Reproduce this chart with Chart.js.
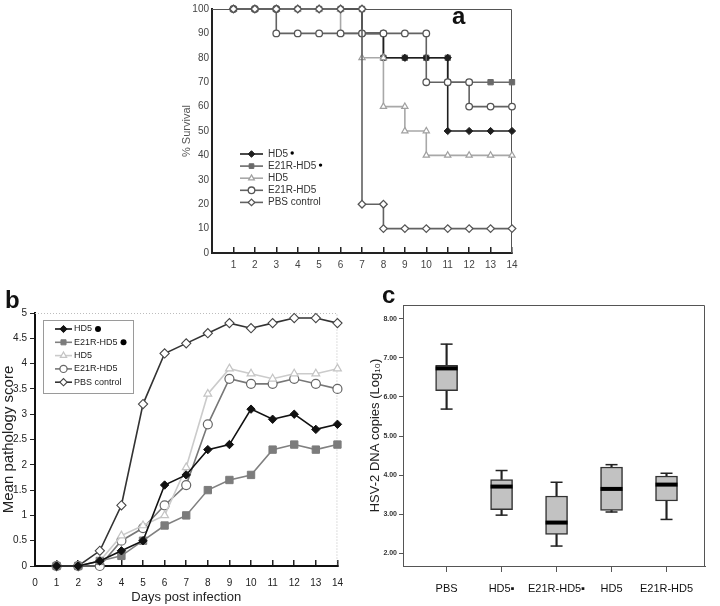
<!DOCTYPE html>
<html><head><meta charset="utf-8">
<script src="https://cdn.jsdelivr.net/npm/chart.js@4.4.1/dist/chart.umd.min.js"></script>
<style>
html,body{margin:0;padding:0;background:#fff;}
body{width:720px;height:606px;position:relative;overflow:hidden;font-family:"Liberation Sans",Arial,sans-serif;}
.box{position:absolute;}
.lab{position:absolute;font-weight:bold;color:#111;font-family:"Liberation Sans",Arial,sans-serif;line-height:normal;}
</style></head><body>
<div class="box" style="left:150px;top:0;width:380px;height:285px"><canvas id="ca"></canvas></div>
<div class="box" style="left:0;top:290px;width:360px;height:316px"><canvas id="cb"></canvas></div>
<div class="box" style="left:365px;top:290px;width:355px;height:316px"><canvas id="cc"></canvas></div>
<div class="lab" style="left:452px;top:2px;font-size:24px">a</div>
<div class="lab" style="left:5px;top:286px;font-size:24px">b</div>
<div class="lab" style="left:382px;top:281px;font-size:24px">c</div>
<script>
// ---------- data ----------
const days = [1,2,3,4,5,6,7,8,9,10,11,12,13,14];
// panel a : % survival at each day
const survHD5dot  = [100,100,100,100,100,100,90,80,80,80,50,50,50,50];
const survE21Rdot = [100,100,100,100,100,100,90,80,80,80,70,70,70,70];
const survHD5     = [100,100,100,100,100,90,80,60,50,40,40,40,40,40];
const survE21R    = [100,100,90,90,90,90,90,90,90,70,70,60,60,60];
const survPBS     = [100,100,100,100,100,100,20,10,10,10,10,10,10,10];
// panel b : mean pathology score
const pathHD5dot  = [0,0,0.1,0.3,0.5,1.6,1.8,2.3,2.4,3.1,2.9,3.0,2.7,2.8];
const pathE21Rdot = [0,0,0.1,0.2,0.5,0.8,1.0,1.5,1.7,1.8,2.3,2.4,2.3,2.4];
const pathHD5     = [0,0,0.1,0.6,0.8,1.0,1.95,3.4,3.9,3.8,3.7,3.8,3.8,3.9];
const pathE21R    = [0,0,0,0.5,0.75,1.2,1.6,2.8,3.7,3.6,3.6,3.7,3.6,3.5];
const pathPBS     = [0,0,0.3,1.2,3.2,4.2,4.4,4.6,4.8,4.7,4.8,4.9,4.9,4.8];
// panel c : HSV-2 DNA copies (log10) box plot
const boxCats = ['PBS','HD5\u25AA','E21R-HD5\u25AA','HD5','E21R-HD5'];
const boxPos  = [1,2,3,4,5];
const boxMin  = [5.69,2.98,2.19,3.06,2.87];
const boxQ1   = [6.16,3.12,2.49,3.10,3.34];
const boxMed  = [6.73,3.71,2.79,3.65,3.76];
const boxQ3   = [6.81,3.89,3.47,4.21,3.98];
const boxMax  = [7.35,4.12,3.82,4.27,4.05];
// tick labels
const logTicks = [2,3,4,5,6,7,8];
const catLabelsHidden0 = ['',1,2,3,4,5,6,7,8,9,10,11,12,13,14];

// ---------- helpers ----------
const FAM = '"Liberation Sans", Arial, sans-serif';
Chart.defaults.font.family = FAM;
Chart.defaults.animation = false;

function stepPts(vals){
  const pts=[];
  vals.forEach((v,i)=>{
    if(i>0 && v!==vals[i-1]) pts.push({x:days[i],y:vals[i-1]});
    pts.push({x:days[i],y:v});
  });
  return pts;
}
function linePts(vals){ return vals.map((v,i)=>({x:days[i],y:v})); }

const framePlugin = {
  id:'frame',
  beforeDatasetsDraw(chart,args,o){
    if(!o || !o.color) return;
    const {left,right,top,bottom}=chart.chartArea; const ctx=chart.ctx;
    ctx.save(); ctx.strokeStyle=o.color; ctx.lineWidth=o.width||1; ctx.setLineDash(o.dash||[]);
    ctx.beginPath(); ctx.moveTo(left,top+0.5); ctx.lineTo(right-0.5,top+0.5); ctx.lineTo(right-0.5,bottom); ctx.stroke();
    ctx.restore();
  }
};
const lineLegend = {
  id:'lineLegend',
  afterDatasetsDraw(chart,args,o){
    if(!o || !o.items) return;
    const ctx=chart.ctx; ctx.save();
    if(o.box){ ctx.fillStyle='#fff'; ctx.fillRect(o.box.x,o.box.y,o.box.w,o.box.h);
      ctx.strokeStyle=o.box.color; ctx.lineWidth=1; ctx.strokeRect(o.box.x+0.5,o.box.y+0.5,o.box.w,o.box.h); }
    o.items.forEach((it,k)=>{
      const ds=chart.data.datasets[it.ds]; const y=o.y+k*o.dy;
      ctx.setLineDash([]);
      ctx.strokeStyle=ds.borderColor; ctx.lineWidth=ds.borderWidth;
      ctx.beginPath(); ctx.moveTo(o.x,y); ctx.lineTo(o.x+o.len,y); ctx.stroke();
      ctx.fillStyle=ds.pointBackgroundColor; ctx.strokeStyle=ds.pointBorderColor; ctx.lineWidth=ds.pointBorderWidth;
      Chart.helpers.drawPoint(ctx,{pointStyle:ds.pointStyle,radius:o.r||ds.pointRadius,borderWidth:ds.pointBorderWidth,rotation:0},o.x+o.len/2,y);
      ctx.fillStyle=o.color; ctx.font=o.font; ctx.textBaseline='middle'; ctx.textAlign='left';
      const tx=o.x+o.len+o.gap; ctx.fillText(it.text,tx,y);
      if(it.bullet){ const w=ctx.measureText(it.text).width; ctx.fillStyle='#000';
        ctx.beginPath(); ctx.arc(tx+w+o.bgap+it.bullet,y-(o.bdy||0),it.bullet,0,Math.PI*2); ctx.fill(); }
    });
    ctx.restore();
  }
};

// ---------- panel a ----------
new Chart(document.getElementById('ca'),{
  type:'line',
  data:{datasets:[
    {label:'HD5 dot',data:stepPts(survHD5dot),borderColor:'#1e1e1e',borderWidth:1.6,pointStyle:'rectRot',pointRadius:3.6,pointBackgroundColor:'#1e1e1e',pointBorderColor:'#1e1e1e',pointBorderWidth:1,order:3,clip:false},
    {label:'E21R-HD5 dot',data:stepPts(survE21Rdot),borderColor:'#6a6a6a',borderWidth:1.6,pointStyle:'rect',pointRadius:3.8,pointBackgroundColor:'#6a6a6a',pointBorderColor:'#6a6a6a',pointBorderWidth:1,order:4,clip:false},
    {label:'HD5',data:stepPts(survHD5),borderColor:'#a8a8a8',borderWidth:1.6,pointStyle:'triangle',pointRadius:3.6,pointBackgroundColor:'#fff',pointBorderColor:'#a0a0a0',pointBorderWidth:1.2,order:2,clip:false},
    {label:'E21R-HD5',data:stepPts(survE21R),borderColor:'#626262',borderWidth:1.6,pointStyle:'circle',pointRadius:3.3,pointBackgroundColor:'#fff',pointBorderColor:'#555',pointBorderWidth:1.3,order:1,clip:false},
    {label:'PBS control',data:stepPts(survPBS),borderColor:'#626262',borderWidth:1.6,pointStyle:'rectRot',pointRadius:3.8,pointBackgroundColor:'#fff',pointBorderColor:'#555',pointBorderWidth:1.3,order:0,clip:false}
  ]},
  options:{
    responsive:true,maintainAspectRatio:false,animation:false,
    layout:{padding:{left:30,right:18,top:5,bottom:0}},
    plugins:{legend:{display:false},tooltip:{enabled:false},
      frame:{color:'#555',width:1},
      lineLegend:{x:90,y:154,dy:12.1,len:23,gap:5,r:3.3,bgap:2.5,bdy:1,font:'10px '+FAM,color:'#333',
        items:[{ds:0,text:'HD5',bullet:1.7},{ds:1,text:'E21R-HD5',bullet:1.7},{ds:2,text:'HD5'},{ds:3,text:'E21R-HD5'},{ds:4,text:'PBS control'}]}},
    scales:{
      x:{type:'linear',min:0,max:14,
        afterBuildTicks:s=>{s.ticks=catLabelsHidden0.map((l,i)=>({value:i}));},
        ticks:{callback:v=>catLabelsHidden0[v],padding:12,font:{size:10},color:'#444',autoSkip:false,maxRotation:0},
        grid:{drawOnChartArea:false,drawTicks:true,tickLength:-6,color:'#222',lineWidth:1.5},
        border:{color:'#222',width:2},afterFit:s=>{s.height=32;}},
      y:{min:0,max:100,ticks:{stepSize:10,padding:3,font:{size:10},color:'#444'},
        grid:{display:false,drawTicks:false},border:{color:'#222',width:2},
        title:{display:true,text:'% Survival',font:{size:11},color:'#555',padding:0},
        afterFit:s=>{s.width=32;}}
    }
  },
  plugins:[framePlugin,lineLegend]
});

// ---------- panel b ----------
new Chart(document.getElementById('cb'),{
  type:'line',
  data:{datasets:[
    {label:'HD5 dot',data:linePts(pathHD5dot),borderColor:'#111',borderWidth:1.6,pointStyle:'rectRot',pointRadius:4.2,pointBackgroundColor:'#111',pointBorderColor:'#111',pointBorderWidth:1,clip:false},
    {label:'E21R-HD5 dot',data:linePts(pathE21Rdot),borderColor:'#808080',borderWidth:1.6,pointStyle:'rect',pointRadius:5.2,pointBackgroundColor:'#7c7c7c',pointBorderColor:'#7c7c7c',pointBorderWidth:1,clip:false},
    {label:'HD5',data:linePts(pathHD5),borderColor:'#cbcbcb',borderWidth:1.6,pointStyle:'triangle',pointRadius:4.5,pointBackgroundColor:'#fff',pointBorderColor:'#c4c4c4',pointBorderWidth:1.2,clip:false},
    {label:'E21R-HD5',data:linePts(pathE21R),borderColor:'#777',borderWidth:1.6,pointStyle:'circle',pointRadius:4.5,pointBackgroundColor:'#fff',pointBorderColor:'#666',pointBorderWidth:1.2,clip:false},
    {label:'PBS control',data:linePts(pathPBS),borderColor:'#333',borderWidth:1.6,pointStyle:'rectRot',pointRadius:4.6,pointBackgroundColor:'#fff',pointBorderColor:'#444',pointBorderWidth:1.1,clip:false}
  ]},
  options:{
    responsive:true,maintainAspectRatio:false,animation:false,
    layout:{padding:{left:0,right:18,top:23,bottom:0}},
    plugins:{legend:{display:false},tooltip:{enabled:false},
      frame:{color:'#bdbdbd',width:1,dash:[1,2]},
      lineLegend:{x:55,y:39,dy:13.3,len:17,gap:2,r:3.6,bgap:3,bdy:0,font:'9px '+FAM,color:'#222',
        box:{x:43,y:30,w:90,h:73,color:'#9a9a9a'},
        items:[{ds:0,text:'HD5',bullet:3},{ds:1,text:'E21R-HD5',bullet:3},{ds:2,text:'HD5'},{ds:3,text:'E21R-HD5'},{ds:4,text:'PBS control'}]}},
    scales:{
      x:{type:'linear',min:0,max:14,ticks:{stepSize:1,padding:17,font:{size:10},color:'#222',autoSkip:false,maxRotation:0},
        grid:{drawOnChartArea:false,drawTicks:true,tickLength:-6,color:'#222',lineWidth:1.5},
        border:{color:'#111',width:2},
        title:{display:true,text:'Days post infection',font:{size:13},color:'#222',padding:{top:0,bottom:1}},
        afterFit:s=>{s.height=40;}},
      y:{min:0,max:5,ticks:{stepSize:0.5,padding:3,font:{size:10},color:'#222',callback:v=>String(v)},
        grid:{drawOnChartArea:false,drawTicks:true,tickLength:5,color:'#222'},
        border:{color:'#111',width:2},
        title:{display:true,text:'Mean pathology score',font:{size:15},color:'#222',padding:0},
        afterFit:s=>{s.width=35;}}
    }
  },
  plugins:[framePlugin,lineLegend]
});

// ---------- panel c ----------
const idx = (arr)=>boxPos.map((p,i)=>({x:p,y:arr[i]}));
const rng = (a,b)=>boxPos.map((p,i)=>({x:p,y:[a[i],b[i]]}));
new Chart(document.getElementById('cc'),{
  type:'bar',
  data:{datasets:[
    {type:'bar',label:'lower whisker',data:rng(boxMin,boxQ1),backgroundColor:'#222',barThickness:1.5,grouped:false,order:3},
    {type:'bar',label:'upper whisker',data:rng(boxQ3,boxMax),backgroundColor:'#222',barThickness:1.5,grouped:false,order:3},
    {type:'bar',label:'box',data:rng(boxQ1,boxQ3),backgroundColor:'#c2c2c2',borderColor:'#333',borderWidth:1.5,borderSkipped:false,barThickness:22,grouped:false,order:2},
    {type:'line',label:'max',data:idx(boxMax),showLine:false,pointStyle:'line',pointRadius:6,borderColor:'#222',borderWidth:1.5,pointBorderWidth:1.5,order:1},
    {type:'line',label:'min',data:idx(boxMin),showLine:false,pointStyle:'line',pointRadius:6,borderColor:'#222',borderWidth:1.5,pointBorderWidth:1.5,order:1},
    {type:'line',label:'median',data:idx(boxMed),showLine:false,pointStyle:'line',pointRadius:11,borderColor:'#000',borderWidth:4,pointBorderWidth:4,order:0}
  ]},
  options:{
    responsive:true,maintainAspectRatio:false,animation:false,
    layout:{padding:{left:0,right:5,top:14,bottom:0}},
    plugins:{legend:{display:false},tooltip:{enabled:false},frame:{color:'#555',width:1}},
    scales:{
      x:{type:'linear',min:0.207,max:5.70,offset:false,
        afterBuildTicks:s=>{s.ticks=boxPos.map(v=>({value:v}));},
        ticks:{callback:v=>boxCats[boxPos.indexOf(v)],padding:10.5,font:{size:11},color:'#111',autoSkip:false,maxRotation:0},
        grid:{offset:false,drawOnChartArea:false,drawTicks:true,tickLength:6,color:'#555'},
        border:{color:'#555',width:1},afterFit:s=>{s.height=40;}},
      y:{min:1.68,max:8.35,
        afterBuildTicks:s=>{s.ticks=logTicks.map(v=>({value:v}));},
        ticks:{callback:v=>v.toFixed(2),padding:2,font:{size:7,weight:'bold'},color:'#333'},
        grid:{drawOnChartArea:false,drawTicks:true,tickLength:4,color:'#555'},
        border:{color:'#555',width:1},
        title:{display:true,text:'HSV-2 DNA copies (Log\u2081\u2080)',font:{size:13},color:'#222',padding:{top:3,bottom:0}},
        afterFit:s=>{s.width=38;}}
    }
  },
  plugins:[framePlugin]
});
</script>
</body></html>
